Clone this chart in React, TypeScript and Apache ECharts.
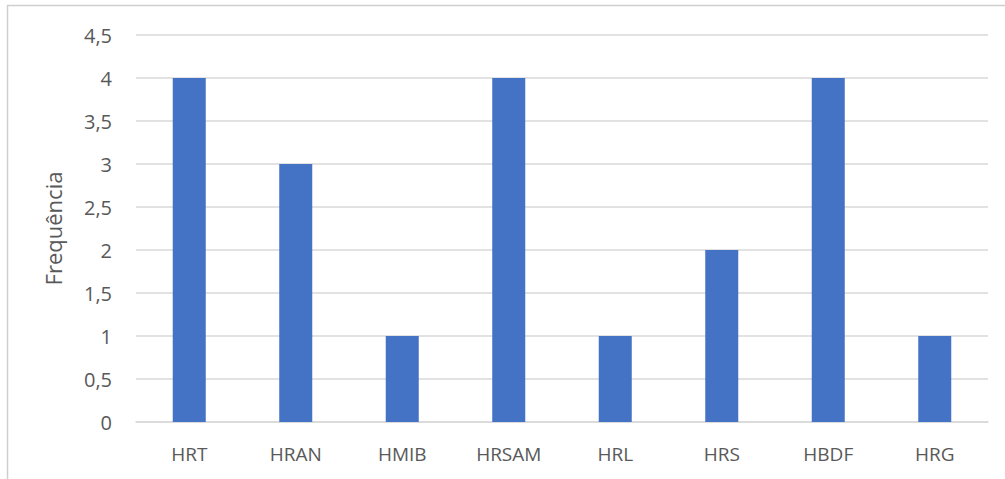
import React, { useEffect, useRef } from "react";
import * as echarts from "echarts";

// Frequency per category
const categories = ["HRT", "HRAN", "HMIB", "HRSAM", "HRL", "HRS", "HBDF", "HRG"];
const frequencies = [4, 3, 1, 4, 1, 2, 4, 1];

const FONT = "'Open Sans', Lato, sans-serif";
const TEXT_COLOR = "#595959";
const GRID_COLOR = "#d9d9d9";

export default function App() {
  const ref = useRef<HTMLDivElement>(null);

  useEffect(() => {
    if (!ref.current) return;
    const chart = echarts.init(ref.current, undefined, { renderer: "svg" });
    chart.setOption({
      animation: false,
      backgroundColor: "#ffffff",
      graphic: [
        {
          type: "rect",
          shape: { x: 7.5, y: 5.5, width: 1010, height: 500 },
          style: { fill: "none", stroke: "#cfcfcf", lineWidth: 1.5 },
          silent: true,
        },
      ],
      grid: { left: 136, right: 17, top: 35, bottom: 57 },
      xAxis: {
        type: "category",
        data: categories,
        axisLine: { show: true, lineStyle: { color: GRID_COLOR, width: 1.5 } },
        axisTick: { show: false },
        axisLabel: {
          color: TEXT_COLOR,
          fontFamily: FONT,
          fontSize: 19,
          margin: 22,
        },
      },
      yAxis: {
        type: "value",
        min: 0,
        max: 4.5,
        interval: 0.5,
        name: "Frequência",
        nameLocation: "middle",
        nameGap: 72,
        nameTextStyle: { color: TEXT_COLOR, fontFamily: FONT, fontSize: 22 },
        axisLine: { show: false },
        axisTick: { show: false },
        axisLabel: {
          color: TEXT_COLOR,
          fontFamily: FONT,
          fontSize: 20,
          margin: 24,
          formatter: (v: number) => String(v).replace(".", ","),
        },
        splitLine: { lineStyle: { color: GRID_COLOR, width: 1.5 } },
      },
      series: [
        {
          type: "bar",
          data: frequencies,
          barWidth: "31%",
          itemStyle: { color: "#4472c4" },
        },
      ],
    });
    return () => chart.dispose();
  }, []);

  return (
    <div
      ref={ref}
      style={{ position: "fixed", left: 0, top: 0, width: 1005, height: 479, background: "#fff" }}
    />
  );
}
